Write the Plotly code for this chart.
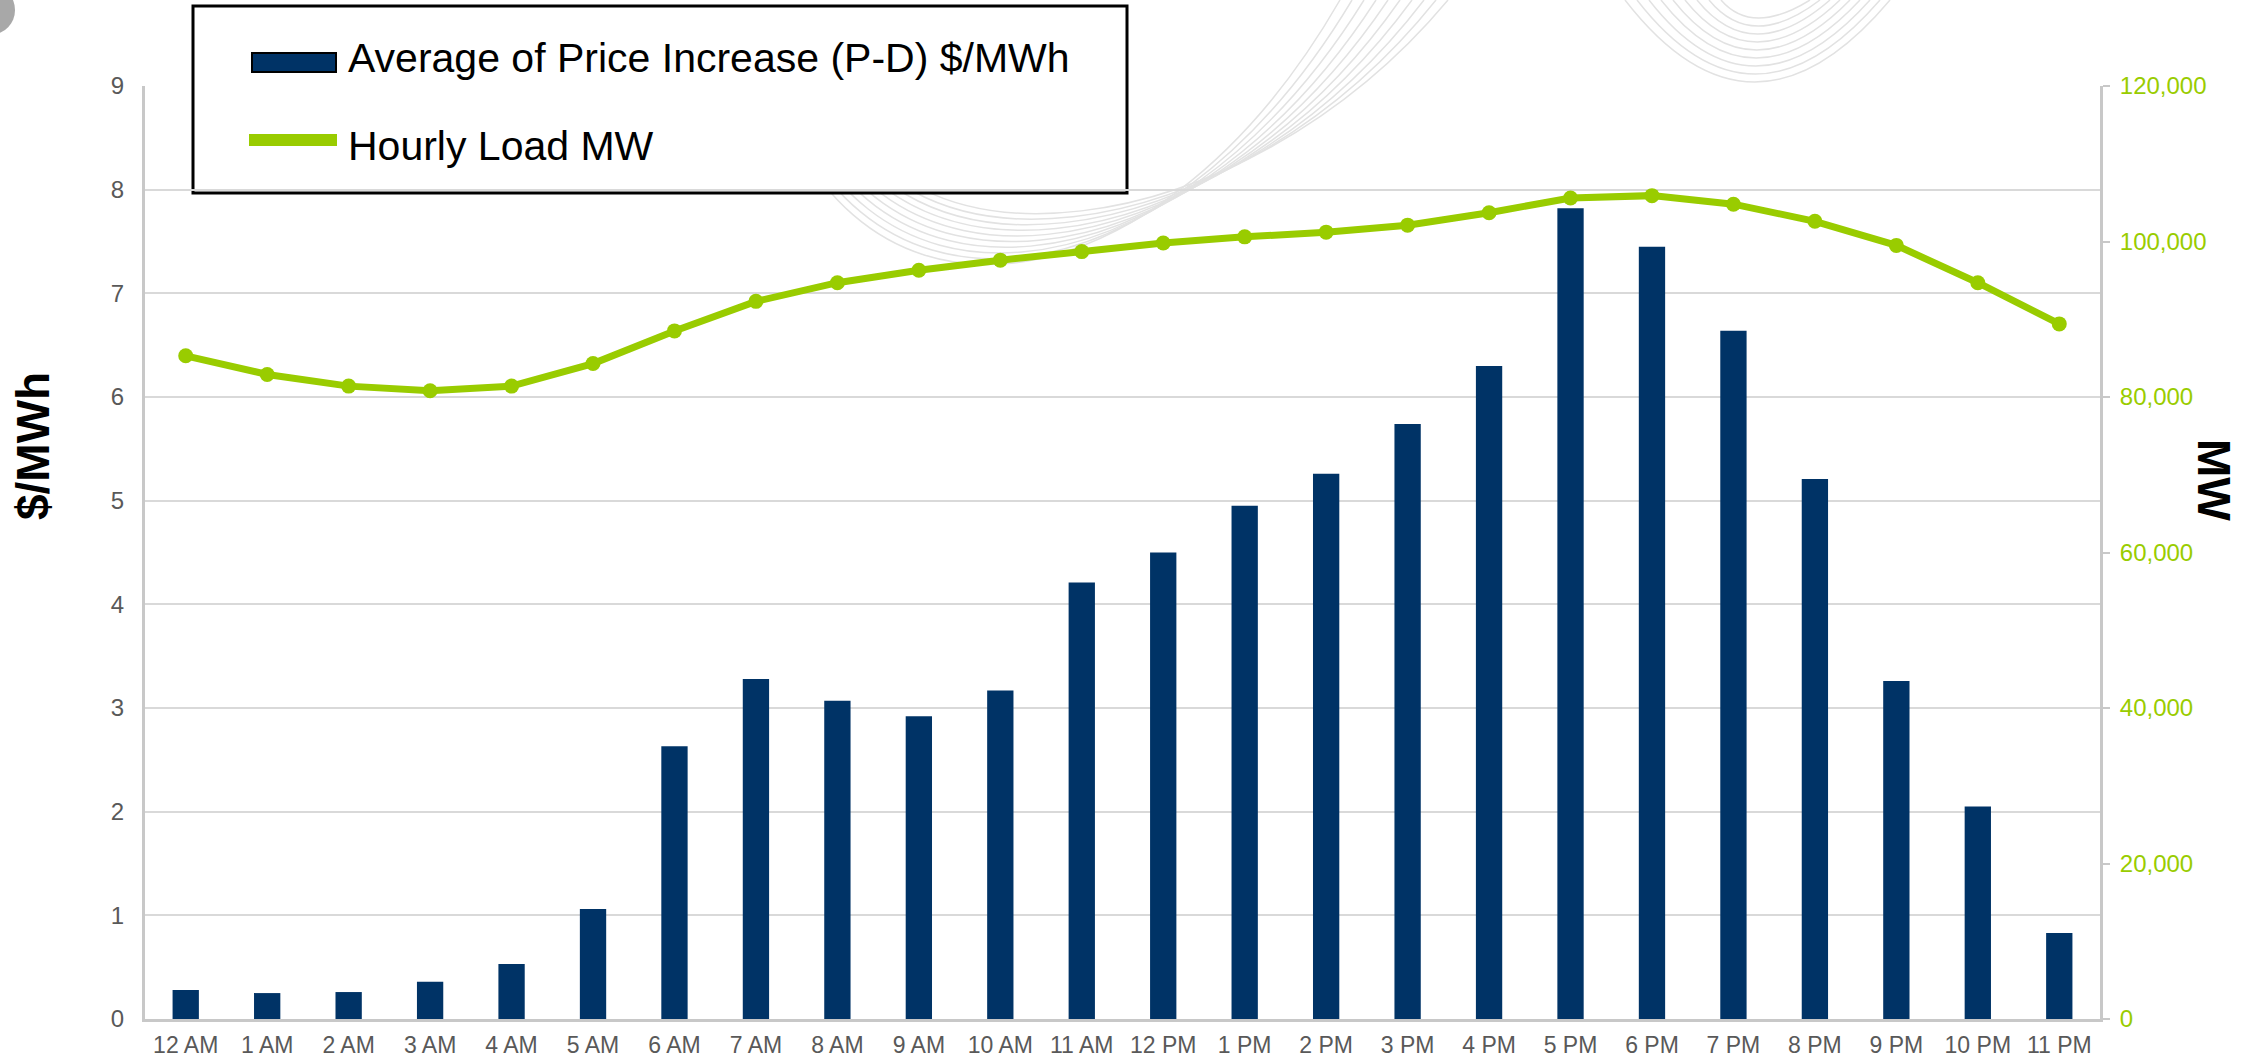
import plotly.graph_objects as go
from plotly.subplots import make_subplots

hours = ['12 AM', '1 AM', '2 AM', '3 AM', '4 AM', '5 AM', '6 AM', '7 AM', '8 AM', '9 AM', '10 AM', '11 AM',
         '12 PM', '1 PM', '2 PM', '3 PM', '4 PM', '5 PM', '6 PM', '7 PM', '8 PM', '9 PM', '10 PM', '11 PM']
price_increase = [0.28, 0.25, 0.26, 0.36, 0.53, 1.06, 2.63, 3.28, 3.07, 2.92, 3.17, 4.21,
                  4.50, 4.95, 5.26, 5.74, 6.30, 7.82, 7.45, 6.64, 5.21, 3.26, 2.05, 0.83]
hourly_load = [85300, 82900, 81400, 80800, 81400, 84300, 88500, 92300, 94700, 96300, 97600, 98700,
               99800, 100600, 101200, 102100, 103700, 105600, 105900, 104800, 102600, 99500, 94700, 89400]
bar_name = 'Average of Price Increase (P-D) $/MWh'
line_name = 'Hourly Load MW'

W, H = 2258, 1064
ML, MR, MT, MB = 145, 158, 86, 45
NAVY = '#003366'
GREEN = '#99CC00'


def px(x, y):
    # pixel position on the page -> paper coordinates
    return (x - ML) / (W - ML - MR), (H - MB - y) / (H - MT - MB)


def path(points):
    # quadratic / cubic bezier path in paper coords from pixel points
    p = [px(*pt) for pt in points]
    cmd = 'Q' if len(p) == 3 else 'C'
    return f'M{p[0][0]},{p[0][1]} {cmd}' + ' '.join(f'{a},{b}' for a, b in p[1:])


fig = make_subplots(specs=[[{"secondary_y": True}]])
fig.add_trace(go.Bar(x=hours, y=price_increase, name=bar_name, marker=dict(color=NAVY, line=dict(width=0)),
                     showlegend=False), secondary_y=False)
fig.add_trace(go.Scatter(x=hours, y=hourly_load, name=line_name, mode='lines+markers',
                         line=dict(color=GREEN, width=7), marker=dict(color=GREEN, size=15),
                         showlegend=False), secondary_y=True)

shapes = []
# faint background swirls of the slide template
swirl = dict(color='#E2E2E2', width=1.5)
for i in range(10):
    shapes.append(dict(type='path', xref='paper', yref='paper', layer='below', line=swirl,
                       path=path([(760 + 8 * i, 40 + 4 * i), (830 + 6 * i, 360 - 8 * i),
                                  (1150 + 10 * i, 330 - 9 * i), (1340 + 12 * i, 0)])))
for i in range(9):
    shapes.append(dict(type='path', xref='paper', yref='paper', layer='below', line=swirl,
                       path=path([(1625 + 12 * i, 0), (1752, 2 * (82 - 8 * i)), (1890 - 10 * i, 0)])))
shapes.append(dict(type='circle', xref='paper', yref='paper', layer='below',
                   x0=px(-30, 0)[0], y0=px(0, 34)[1], x1=px(15, 0)[0], y1=px(0, -14)[1],
                   line=dict(width=0), fillcolor='#A8A8A8'))

# legend drawn by hand (big swatches like the original)
x0, y0 = px(193, 193)
x1, y1 = px(1127, 6)
shapes.append(dict(type='rect', xref='paper', yref='paper', x0=x0, y0=y0, x1=x1, y1=y1,
                   line=dict(color='black', width=3), fillcolor='white', layer='below'))
sx0, sy0 = px(252, 72)
sx1, sy1 = px(336, 53)
shapes.append(dict(type='rect', xref='paper', yref='paper', x0=sx0, y0=sy0, x1=sx1, y1=sy1,
                   line=dict(color='black', width=2), fillcolor=NAVY, layer='above'))
lx0, ly = px(249, 140)
lx1, _ = px(337, 140)
shapes.append(dict(type='line', xref='paper', yref='paper', x0=lx0, y0=ly, x1=lx1, y1=ly,
                   line=dict(color=GREEN, width=12), layer='above'))

legend_font = dict(family='Liberation Sans, Arial', size=41, color='black')
tx, ty1 = px(346, 58)
_, ty2 = px(346, 146)
annotations = [
    dict(text=bar_name, x=tx, y=ty1, xref='paper', yref='paper', xanchor='left', yanchor='middle',
         showarrow=False, font=legend_font),
    dict(text=line_name, x=tx, y=ty2, xref='paper', yref='paper', xanchor='left', yanchor='middle',
         showarrow=False, font=legend_font),
]
title_font = dict(family='Liberation Sans, Arial', size=46, color='black', weight='bold')
ax, ay = px(33, 446)
annotations.append(dict(text='$/MWh', x=ax, y=ay, xref='paper', yref='paper', textangle=-90,
                        xanchor='center', yanchor='middle', showarrow=False, font=title_font))
bx, by = px(2214, 480)
annotations.append(dict(text='MW', x=bx, y=by, xref='paper', yref='paper', textangle=90,
                        xanchor='center', yanchor='middle', showarrow=False, font=title_font))

fig.update_layout(
    width=W, height=H,
    margin=dict(l=ML, r=MR, t=MT, b=MB, autoexpand=False),
    paper_bgcolor='white',
    plot_bgcolor='rgba(0,0,0,0)',
    bargap=0.677,
    showlegend=False,
    font=dict(family='Liberation Sans, Arial', color='#595959'),
    shapes=shapes,
    annotations=annotations,
)

fig.update_xaxes(type='category', domain=[0, 1], range=[-0.5, len(hours) - 0.5], showline=True,
                 linecolor='#C8C8C8', linewidth=3, showgrid=False, ticks='',
                 tickfont=dict(size=23, color='#595959'), ticklabelstandoff=3)
fig.update_yaxes(range=[0, 9], dtick=1, showline=True, linecolor='#C8C8C8', linewidth=3,
                 gridcolor='#D9D9D9', gridwidth=2, zeroline=False, ticks='',
                 tickfont=dict(size=24, color='#595959'), ticklabelstandoff=13, secondary_y=False)
fig.update_yaxes(range=[0, 120000], dtick=20000, tickformat=',', showgrid=False, zeroline=False,
                 showline=True, linecolor='#C8C8C8', linewidth=3, ticks='outside', ticklen=7,
                 tickcolor='#C8C8C8', tickwidth=2, ticklabelstandoff=5,
                 tickfont=dict(size=24, color=GREEN), secondary_y=True)

fig.write_html("out.html", config={'displayModeBar': False},
               post_script="document.body.style.margin='0px';")
